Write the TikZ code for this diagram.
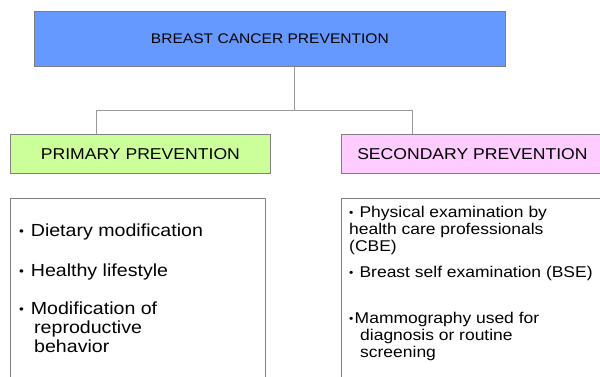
\documentclass[tikz,border=0pt]{standalone}
\usepackage{fontspec}
\setmainfont[FakeStretch=1.12]{Liberation Sans}
\definecolor{topblue}{RGB}{102,153,255}
\definecolor{primgreen}{RGB}{204,255,153}
\definecolor{secpink}{RGB}{255,204,255}
\definecolor{edgegray}{RGB}{128,128,128}
\newcommand{\dotbul}{\raisebox{0.06em}{\scalebox{0.7}{•}}\hspace{0.08em}}
\begin{document}
\begin{tikzpicture}[x=1pt,y=-1pt,
    box/.style={draw=edgegray,line width=0.8pt,inner sep=0pt,anchor=north west},
    item/.style={anchor=north west,inner sep=0pt,align=left},
    conn/.style={draw=edgegray!80,line width=0.8pt}]
  \useasboundingbox (0,0) rectangle (600,376);
  \clip (0,0) rectangle (600,376);
  % boxes
  \node[box,fill=topblue,minimum width=471pt,minimum height=55pt,font=\fontsize{13.9}{16}\selectfont] (top) at (34,11) {BREAST CANCER PREVENTION};
  \node[box,fill=primgreen,minimum width=260pt,minimum height=39pt,font=\fontsize{15.7}{18}\selectfont] (prim) at (10,134) {PRIMARY PREVENTION};
  \node[box,fill=secpink,minimum width=262pt,minimum height=39pt,font=\fontsize{15.7}{18}\selectfont] (sec) at (341,134) {SECONDARY PREVENTION};
  \node[box,fill=white,minimum width=255pt,minimum height=200pt] (plist) at (10,198) {};
  \node[box,fill=white,minimum width=262pt,minimum height=200pt] (slist) at (341,198) {};
  % connectors
  \coordinate (fork) at (294,110);
  \coordinate (jl) at (96,110);
  \coordinate (jr) at (412,110);
  \draw[conn] (top.south -| fork) -- (fork);
  \draw[conn] (prim.north -| jl) -- (jl) -- (jr) -- (sec.north -| jr);
  % items
  \begin{scope}[font=\fontsize{17.5}{19}\selectfont]
    \node[item] (pa) at (19,224) {\dotbul{} Dietary modification};
    \node[item] (pb) at (19,264) {\dotbul{} Healthy lifestyle};
    \node[item] (pc) at (19,302) {\dotbul{} Modification of\\\hspace*{15pt}reproductive\\\hspace*{15pt}behavior};
  \end{scope}
  \begin{scope}[font=\fontsize{15.6}{17}\selectfont]
    \node[item] (sa) at (349,205.6) {\dotbul{} Physical examination by\\health care professionals\\(CBE)};
    \node[item] (sb) at (349,265.6) {\dotbul{} Breast self examination (BSE)};
    \node[item] (sc) at (349,311.6) {\dotbul{}Mammography used for\\\hspace*{11pt}diagnosis or routine\\\hspace*{11pt}screening};
  \end{scope}
\end{tikzpicture}
\end{document}
